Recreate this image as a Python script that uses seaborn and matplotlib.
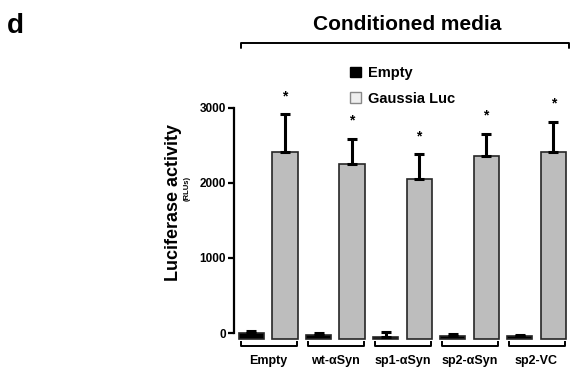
import numpy as np
import pandas as pd
import matplotlib
matplotlib.use('Agg')
import matplotlib.pyplot as plt
from matplotlib.patches import Patch
import seaborn as sns

groups = ['Empty', 'wt-αSyn', 'sp1-αSyn', 'sp2-αSyn', 'sp2-VC']
conditions = ['Empty', 'Gaussia Luc']
empty_mean = [-5, -27, -50, -35, -40]
empty_err = [27, 31, 67, 26, 18]
gluc_mean = [2410, 2255, 2050, 2365, 2410]
gluc_err = [505, 335, 335, 290, 405]
base = -85  # bars start below zero in the original figure

sns.set_theme(style='white')
plt.rcParams['font.family'] = ['Liberation Sans', 'DejaVu Sans']
plt.rcParams['font.weight'] = 'bold'
for k in ['text.color', 'axes.labelcolor', 'xtick.color', 'ytick.color']:
    plt.rcParams[k] = 'black'

df = pd.DataFrame({
    'group': groups * 2,
    'condition': [conditions[0]] * 5 + [conditions[1]] * 5,
    'value': empty_mean + gluc_mean,
})

fig = plt.figure(figsize=(5.7, 3.76), dpi=100)
ax = fig.add_axes([234 / 570, 1 - 340.5 / 376, 336 / 570, 262.5 / 376])

sns.barplot(data=df, x='group', y='value', hue='condition', order=groups,
            hue_order=conditions, palette=['black', '#bdbdbd'], width=1.0,
            gap=0.25, errorbar=None, edgecolor='#262626', linewidth=1.2,
            saturation=1, ax=ax)
ax.get_legend().remove()

# re-base bars and add one-sided error bars
for k, (cont, err) in enumerate(zip(ax.containers, [empty_err, gluc_err])):
    xs, tops = [], []
    for rect in cont:
        top = rect.get_y() + rect.get_height()
        rect.set_y(base)
        rect.set_height(top - base)
        xs.append(rect.get_x() + rect.get_width() / 2)
        tops.append(top)
    ax.errorbar(xs, tops, yerr=[np.zeros(len(err)), err], fmt='none',
                ecolor='black', elinewidth=2.2, capsize=3.6, capthick=2.2, zorder=3)
    if k == 1:
        for x, t, e in zip(xs, tops, err):
            ax.annotate('*', (x, t + e), xytext=(0, 13), textcoords='offset points',
                        ha='center', va='center', fontsize=10, fontweight='bold')

ax.set_xlim(-0.51, 4.5)
ax.set_ylim(-100, 3400)
ax.set_yticks([0, 1000, 2000, 3000])
ax.set_yticklabels(['0', '1000', '2000', '3000'], fontsize=8.5, fontweight='bold')
sns.despine(ax=ax, bottom=True)
ax.spines['left'].set_bounds(0, 3000)
ax.spines['left'].set_linewidth(1.6)
ax.spines['left'].set_color('black')
ax.tick_params(axis='y', left=True, length=4, width=1.6, pad=2, colors='black')
ax.tick_params(axis='x', length=0, pad=10.5, labelsize=9, colors='black')
for lab in ax.get_xticklabels():
    lab.set_fontweight('bold')
ax.set_xlabel('')
ax.set_ylabel('')

# brackets under each group
for i in range(len(groups)):
    ax.plot([i - 0.41, i - 0.41, i + 0.43, i + 0.43], [-110, -175, -175, -110],
            color='black', lw=1.4, clip_on=False, solid_capstyle='butt')

# top bracket
ax.plot([-0.41, -0.41, 4.49, 4.49], [3800, 3867, 3867, 3800], color='black',
        lw=1.4, clip_on=False)
fig.text(407 / 570, 1 - 30 / 376, 'Conditioned media', ha='center', va='baseline',
         fontsize=15, fontweight='bold', color='black')
fig.text(7 / 570, 1 - 33 / 376, 'd', ha='left', va='baseline', fontsize=20,
         fontweight='bold', color='black')

ax.text(-0.1815, 0.5276, 'Luciferase activity', transform=ax.transAxes, rotation=90,
        ha='center', va='center', fontsize=13, fontweight='bold', color='black')
ax.text(-0.14, 0.581, '(RLUs)', transform=ax.transAxes, rotation=90,
        ha='center', va='center', fontsize=5.5, fontweight='bold', color='black')

handles = [Patch(facecolor='black', edgecolor='black'),
           Patch(facecolor='#efefef', edgecolor='#888888')]
ax.legend(handles, conditions, loc='upper left', bbox_to_anchor=(350 / 570, 1 - 66 / 376),
          bbox_transform=fig.transFigure, frameon=False, handlelength=0.75,
          handleheight=0.75, handletextpad=0.5, labelspacing=0.8, borderpad=0,
          borderaxespad=0, prop={'weight': 'bold', 'size': 10.5}, labelcolor='black')

fig.savefig('out.png', dpi=100)
